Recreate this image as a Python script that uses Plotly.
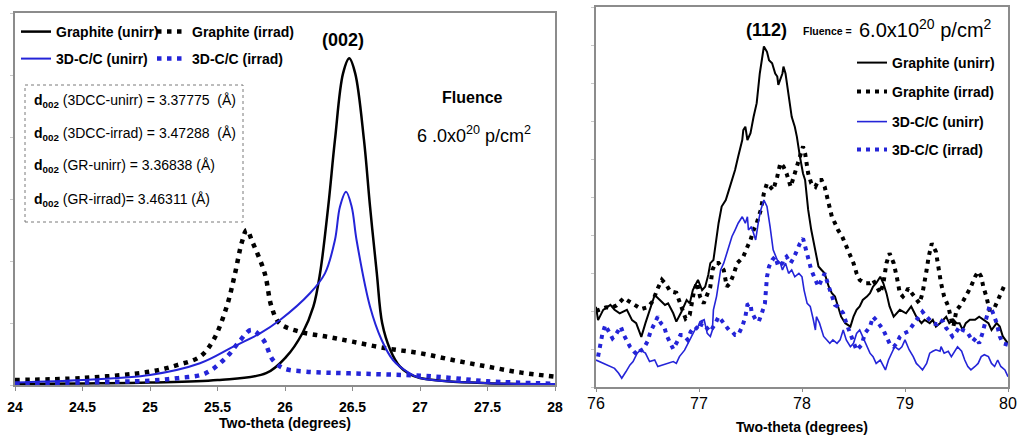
import plotly.graph_objects as go

# ---------------- Left panel (002) data ----------------
gr_unirr_002_x = [24.0, 24.5, 25.0, 25.5, 25.86, 26.01, 26.13, 26.21, 26.26, 26.32, 26.37, 26.43, 26.476,
                  26.52, 26.585, 26.63, 26.68, 26.72, 26.78, 26.85, 26.92, 27.0, 27.2, 27.5, 28.0]
gr_unirr_002_y = [15, 25, 40, 80, 190, 457, 839, 1263, 1806, 2876, 3952, 5027, 5269,
                  5027, 3952, 2876, 1806, 995, 565, 300, 180, 113, 60, 30, 10]

gr_irrad_002_x = [24.0, 24.5, 25.0, 25.2, 25.37, 25.47, 25.568, 25.63, 25.68, 25.716, 25.76, 25.85, 25.9,
                  25.96, 26.11, 26.31, 26.5, 26.75, 27.0, 27.25, 27.5, 27.75, 28.0]
gr_irrad_002_y = [80, 113, 215, 320, 457, 726, 1263, 1801, 2300, 2500, 2300, 1801, 1263,
                  995, 860, 779, 699, 591, 513, 400, 296, 200, 135]

cc_unirr_002_x = [24.0, 24.5, 25.0, 25.37, 25.617, 25.815, 25.963, 26.185, 26.296, 26.37, 26.407, 26.452,
                  26.494, 26.53, 26.63, 26.716, 26.8, 26.9, 27.0, 27.5, 28.0]
cc_unirr_002_y = [40, 80, 161, 350, 618, 833, 1048, 1479, 1801, 2339, 2876, 3118,
                  2876, 2339, 1263, 726, 403, 220, 113, 30, 15]

cc_irrad_002_x = [24.0, 24.5, 25.0, 25.2, 25.41, 25.57, 25.67, 25.75, 25.84, 25.91, 25.99, 26.16, 26.48,
                  27.0, 27.25, 27.5, 28.0]
cc_irrad_002_y = [20, 40, 70, 110, 188, 457, 726, 887, 726, 403, 269, 215, 188,
                  150, 110, 60, 20]

# ---------------- Right panel (112) data ----------------
gr_unirr_112_x = [76.00, 76.02, 76.07, 76.14, 76.18, 76.23, 76.30, 76.35, 76.39, 76.44, 76.48, 76.52, 76.57,
                  76.62, 76.67, 76.70, 76.75, 76.78, 76.83, 76.88, 76.91, 76.94, 76.99, 77.03, 77.06, 77.09,
                  77.11, 77.14, 77.16, 77.19, 77.22, 77.26, 77.29, 77.32, 77.35, 77.38, 77.42, 77.43, 77.45,
                  77.47, 77.50, 77.53, 77.56, 77.59, 77.63, 77.66, 77.68, 77.71, 77.74, 77.76, 77.77, 77.81,
                  77.82, 77.84, 77.87, 77.90, 77.93, 77.95, 77.98, 78.01, 78.03, 78.06, 78.09, 78.13, 78.16,
                  78.19, 78.22, 78.26, 78.29, 78.32, 78.35, 78.38, 78.42, 78.47, 78.50, 78.53, 78.56, 78.59,
                  78.63, 78.66, 78.69, 78.72, 78.76, 78.79, 78.82, 78.85, 78.89, 78.92, 78.95, 79.01, 79.06,
                  79.11, 79.16, 79.19, 79.24, 79.27, 79.30, 79.34, 79.37, 79.40, 79.43, 79.47, 79.50, 79.53,
                  79.56, 79.59, 79.63, 79.68, 79.72, 79.76, 79.81, 79.84, 79.89, 79.92, 79.95, 80.00]
gr_unirr_112_y = [211, 176, 203, 216, 203, 194, 203, 176, 168, 132, 168, 203, 242,
                  229, 216, 220, 194, 172, 198, 229, 220, 255, 282, 255, 264, 295,
                  326, 334, 378, 431, 475, 492, 518, 545, 571, 606, 650, 676, 685,
                  650, 668, 711, 747, 825, 896, 882, 860, 852, 825, 817, 795, 825,
                  843, 825, 764, 711, 685, 659, 606, 562, 545, 466, 413, 361, 317,
                  308, 299, 264, 247, 238, 212, 185, 168, 159, 185, 203, 212, 229,
                  238, 247, 264, 273, 290, 273, 247, 212, 185, 194, 203, 194, 212,
                  185, 168, 177, 168, 177, 159, 168, 177, 185, 168, 177, 168, 168,
                  150, 168, 177, 177, 185, 177, 168, 150, 168, 159, 133, 115]

gr_irrad_112_x = [76.00, 76.05, 76.10, 76.15, 76.20, 76.27, 76.32, 76.38, 76.44, 76.50, 76.55, 76.60, 76.64,
                  76.68, 76.72, 76.78, 76.82, 76.87, 76.91, 76.95, 76.98, 77.01, 77.045, 77.08, 77.11, 77.13,
                  77.16, 77.19, 77.24, 77.27, 77.30, 77.34, 77.37, 77.40, 77.43, 77.47, 77.50, 77.53, 77.56,
                  77.60, 77.63, 77.66, 77.69, 77.72, 77.76, 77.79, 77.82, 77.85, 77.89, 77.92, 77.95, 77.98,
                  78.01, 78.03, 78.06, 78.09, 78.13, 78.16, 78.19, 78.22, 78.26, 78.29, 78.32, 78.35, 78.39,
                  78.42, 78.47, 78.50, 78.53, 78.56, 78.61, 78.66, 78.69, 78.73, 78.76, 78.79, 78.82, 78.85,
                  78.89, 78.92, 78.95, 78.98, 79.01, 79.03, 79.09, 79.14, 79.17, 79.19, 79.21, 79.23, 79.26,
                  79.30, 79.32, 79.35, 79.38, 79.42, 79.45, 79.47, 79.50, 79.53, 79.57, 79.61, 79.64, 79.68,
                  79.71, 79.74, 79.76, 79.79, 79.82, 79.86, 79.89, 79.92, 79.96, 79.99]
gr_irrad_112_y = [200, 205, 210, 208, 215, 234, 225, 215, 205, 210, 225, 260, 282,
                  270, 252, 248, 215, 180, 190, 250, 275, 238, 220, 247, 264, 308,
                  326, 326, 308, 264, 273, 299, 326, 334, 343, 369, 387, 413, 431,
                  466, 510, 536, 527, 518, 554, 589, 580, 562, 527, 553, 580, 606,
                  633, 615, 562, 536, 527, 545, 545, 527, 483, 448, 431, 413, 396,
                  378, 343, 326, 299, 282, 273, 273, 282, 264, 247, 273, 326, 352,
                  326, 290, 247, 238, 247, 260, 238, 220, 247, 273, 308, 343, 378,
                  356, 317, 273, 238, 212, 177, 159, 203, 212, 229, 247, 264, 290,
                  304, 290, 264, 238, 203, 203, 220, 242, 264, 273]

cc_unirr_112_x = [76.00, 76.03, 76.08, 76.13, 76.18, 76.22, 76.25, 76.29, 76.33, 76.36, 76.40, 76.43, 76.48,
                  76.52, 76.57, 76.60, 76.65, 76.70, 76.75, 76.78, 76.81, 76.86, 76.91, 76.96, 76.99, 77.01,
                  77.05, 77.08, 77.11, 77.13, 77.14, 77.17, 77.21, 77.24, 77.27, 77.29, 77.32, 77.35, 77.38,
                  77.42, 77.45, 77.47, 77.48, 77.51, 77.55, 77.58, 77.60, 77.63, 77.66, 77.69, 77.72, 77.76,
                  77.79, 77.81, 77.84, 77.87, 77.90, 77.93, 77.97, 78.00, 78.02, 78.05, 78.08, 78.11, 78.13,
                  78.14, 78.17, 78.21, 78.24, 78.27, 78.30, 78.34, 78.37, 78.40, 78.43, 78.47, 78.50, 78.53,
                  78.56, 78.59, 78.63, 78.66, 78.69, 78.72, 78.76, 78.81, 78.84, 78.87, 78.90, 78.94, 78.97,
                  79.00, 79.04, 79.08, 79.11, 79.14, 79.17, 79.21, 79.24, 79.27, 79.30, 79.34, 79.35, 79.38,
                  79.42, 79.45, 79.48, 79.51, 79.55, 79.58, 79.61, 79.64, 79.68, 79.71, 79.74, 79.77, 79.81,
                  79.84, 79.87, 79.90, 79.93, 79.97, 80.00]
cc_unirr_112_y = [71, 67, 62, 54, 49, 36, 23, 40, 58, 67, 89, 97, 89,
                  67, 71, 54, 58, 62, 67, 62, 80, 97, 124, 150, 159, 172,
                  177, 141, 133, 150, 203, 238, 308, 326, 352, 369, 396, 413, 431,
                  448, 431, 448, 413, 422, 387, 440, 466, 492, 475, 422, 361, 334,
                  326, 308, 326, 299, 308, 290, 299, 290, 255, 220, 212, 177, 150,
                  185, 168, 133, 124, 115, 124, 115, 124, 150, 124, 106, 115, 141,
                  150, 133, 106, 89, 80, 62, 71, 45, 71, 89, 106, 98, 106,
                  124, 98, 80, 62, 54, 45, 62, 89, 94, 98, 94, 106, 89,
                  94, 80, 94, 106, 94, 71, 54, 45, 54, 62, 80, 85, 80,
                  62, 54, 71, 54, 45, 27]

cc_irrad_112_x = [76.02, 76.04, 76.06, 76.09, 76.12, 76.16, 76.19, 76.24, 76.27, 76.30, 76.33, 76.37, 76.40,
                  76.43, 76.46, 76.50, 76.53, 76.57, 76.60, 76.63, 76.66, 76.69, 76.72, 76.75, 76.78, 76.82,
                  76.85, 76.89, 76.92, 76.96, 77.00, 77.03, 77.06, 77.11, 77.16, 77.19, 77.22, 77.26, 77.29,
                  77.32, 77.35, 77.38, 77.42, 77.45, 77.47, 77.50, 77.51, 77.55, 77.58, 77.61, 77.64, 77.65,
                  77.66, 77.68, 77.71, 77.74, 77.77, 77.81, 77.82, 77.85, 77.89, 77.92, 77.95, 77.98, 78.01,
                  78.03, 78.06, 78.09, 78.13, 78.16, 78.19, 78.22, 78.26, 78.29, 78.32, 78.35, 78.40, 78.43,
                  78.47, 78.50, 78.53, 78.58, 78.61, 78.66, 78.69, 78.72, 78.76, 78.79, 78.82, 78.85, 78.89,
                  78.92, 78.95, 78.99, 79.03, 79.09, 79.13, 79.17, 79.21, 79.24, 79.27, 79.31, 79.34, 79.37,
                  79.40, 79.43, 79.46, 79.50, 79.53, 79.56, 79.60, 79.63, 79.66, 79.69, 79.72, 79.75, 79.79,
                  79.82, 79.85, 79.89, 79.92, 79.95, 80.00]
cc_irrad_112_y = [80, 115, 137, 163, 146, 128, 137, 159, 137, 120, 106, 93, 85,
                  95, 100, 120, 146, 168, 185, 168, 160, 133, 115, 100, 115, 137,
                  137, 124, 146, 159, 150, 168, 160, 146, 168, 185, 175, 159, 150,
                  146, 137, 137, 159, 185, 216, 220, 198, 177, 172, 194, 220, 255,
                  290, 317, 334, 343, 317, 326, 335, 343, 326, 340, 361, 378, 391,
                  369, 343, 308, 282, 264, 282, 299, 264, 242, 216, 211, 194, 168,
                  141, 115, 97, 111, 141, 159, 185, 176, 159, 150, 132, 115, 106,
                  115, 132, 141, 146, 168, 185, 198, 185, 175, 168, 165, 177, 172,
                  155, 146, 133, 146, 159, 150, 146, 133, 120, 130, 115, 140, 185,
                  212, 198, 168, 133, 115, 111]

names = ["Graphite (unirr)", "Graphite (irrad)", "3D-C/C (unirr)", "3D-C/C (irrad)"]
axis_title = "Two-theta (degrees)"

BLACK = "#000000"
BLUE = "#2424d8"
FRAME = "#8c8c8c"
FONT = "Liberation Sans, Arial, sans-serif"
W, H = 1019, 435


def px(x):
    return x / W


def py(y):
    return 1 - y / H


fig = go.Figure()

left_specs = [
    (gr_unirr_002_x, gr_unirr_002_y, names[0], dict(color=BLACK, width=2.5), "legend"),
    (gr_irrad_002_x, gr_irrad_002_y, names[1], dict(color=BLACK, width=4.5, dash="4.5px,5.5px"), "legend2"),
    (cc_unirr_002_x, cc_unirr_002_y, names[2], dict(color=BLUE, width=2), "legend3"),
    (cc_irrad_002_x, cc_irrad_002_y, names[3], dict(color=BLUE, width=4.5, dash="4.5px,5.5px"), "legend4"),
]
for xs, ys, nm, ln, lg in left_specs:
    fig.add_trace(go.Scatter(x=xs, y=ys, name=nm, mode="lines",
                             line=dict(shape="spline", smoothing=1.0, **ln),
                             xaxis="x", yaxis="y", legend=lg))

right_specs = [
    (gr_unirr_112_x, gr_unirr_112_y, names[0], dict(color=BLACK, width=2), "legend5"),
    (gr_irrad_112_x, gr_irrad_112_y, names[1], dict(color=BLACK, width=4, dash="4px,5px"), "legend6"),
    (cc_unirr_112_x, cc_unirr_112_y, names[2], dict(color=BLUE, width=1.6), "legend7"),
    (cc_irrad_112_x, cc_irrad_112_y, names[3], dict(color=BLUE, width=4, dash="4px,5px"), "legend8"),
]
for xs, ys, nm, ln, lg in right_specs:
    fig.add_trace(go.Scatter(x=xs, y=ys, name=nm, mode="lines", line=ln,
                             xaxis="x2", yaxis="y2", legend=lg))

leg_font = dict(family=FONT, size=14, color="black", weight="bold")


def legend_at(xp, yp):
    return dict(x=px(xp), y=py(yp), xanchor="left", yanchor="middle",
                bgcolor="rgba(0,0,0,0)", borderwidth=0, font=leg_font,
                itemwidth=30, tracegroupgap=0)


layout_legends = {
    "legend": legend_at(16, 32),
    "legend2": legend_at(152, 32),
    "legend3": legend_at(16, 59),
    "legend4": legend_at(152, 59),
    "legend5": legend_at(852, 63),
    "legend6": legend_at(852, 92),
    "legend7": legend_at(852, 122),
    "legend8": legend_at(852, 150),
}

common_axis = dict(showline=True, mirror=True, linecolor=FRAME, linewidth=1.5,
                   showgrid=False, zeroline=False, automargin=False)

fig.update_layout(
    width=W, height=H, autosize=False,
    margin=dict(l=0, r=0, t=0, b=0, pad=0),
    paper_bgcolor="white", plot_bgcolor="white",
    showlegend=True,
    xaxis=dict(domain=[px(15), px(555)], range=[24, 28], dtick=0.5, tick0=24,
               ticks="outside", ticklen=4, tickcolor=FRAME, anchor="y",
               tickfont=dict(family=FONT, size=14, color="black", weight="bold"),
               ticklabelstandoff=4,
               title=dict(text=axis_title, standoff=4,
                          font=dict(family=FONT, size=14, color="black", weight="bold")),
               **common_axis),
    yaxis=dict(domain=[py(385), py(13)], range=[0, 6000], dtick=1000,
               showticklabels=False, ticks="outside", ticklen=3, tickcolor="#c8c8c8",
               anchor="x", **common_axis),
    xaxis2=dict(domain=[px(596), px(1008)], range=[76, 80], dtick=1,
                ticks="outside", ticklen=3, tickcolor=FRAME, anchor="y2",
                tickfont=dict(family=FONT, size=16, color="black"),
                ticklabelstandoff=-2,
                title=dict(text=axis_title, standoff=12,
                           font=dict(family=FONT, size=14, color="black", weight="bold")),
                **common_axis),
    yaxis2=dict(domain=[py(387), py(7)], range=[0, 1000], dtick=100,
                showticklabels=False, ticks="outside", ticklen=3, tickcolor="#c8c8c8",
                anchor="x2", **common_axis),
    **layout_legends,
)

ann_font = dict(family=FONT, size=14, color="black")
box_lines = [
    "<b>d<sub>002</sub></b> (3DCC-unirr) = 3.37775&nbsp; (Å)",
    "<b>d<sub>002</sub></b> (3DCC-irrad) = 3.47288&nbsp; (Å)",
    "<b>d<sub>002</sub></b> (GR-unirr) = 3.36838 (Å)",
    "<b>d<sub>002</sub></b> (GR-irrad)= 3.46311 (Å)",
]
box_y = [101, 134, 166, 200]
for txt, yy in zip(box_lines, box_y):
    fig.add_annotation(text=txt, x=px(32), y=py(yy), xref="paper", yref="paper",
                       xanchor="left", yanchor="middle", showarrow=False, font=ann_font)

fig.add_shape(type="rect", xref="paper", yref="paper",
              x0=px(25), x1=px(243), y0=py(222), y1=py(85),
              line=dict(color="#7a7a7a", width=1, dash="dot"))


def label(text, xp, yp, size, xanchor="center"):
    fig.add_annotation(text=text, x=px(xp), y=py(yp), xref="paper", yref="paper",
                       xanchor=xanchor, yanchor="middle", showarrow=False,
                       font=dict(family=FONT, size=size, color="black"))


label("<b>(002)</b>", 343, 40, 18)
label("<b>Fluence</b>", 472, 98, 16)
label("6 .0x0<sup>20</sup> p/cm<sup>2</sup>", 474, 135, 18)
label("<b>(112)</b>", 766, 30, 18)
label("<b>Fluence =</b>", 854, 31, 10.5, xanchor="right")
label("6.0x10<sup>20</sup> p/cm<sup>2</sup>", 857, 28, 20, xanchor="left")

fig.write_html("out.html", config={"displayModeBar": False},
               post_script="document.body.style.margin='0px';document.body.style.overflow='hidden';")
